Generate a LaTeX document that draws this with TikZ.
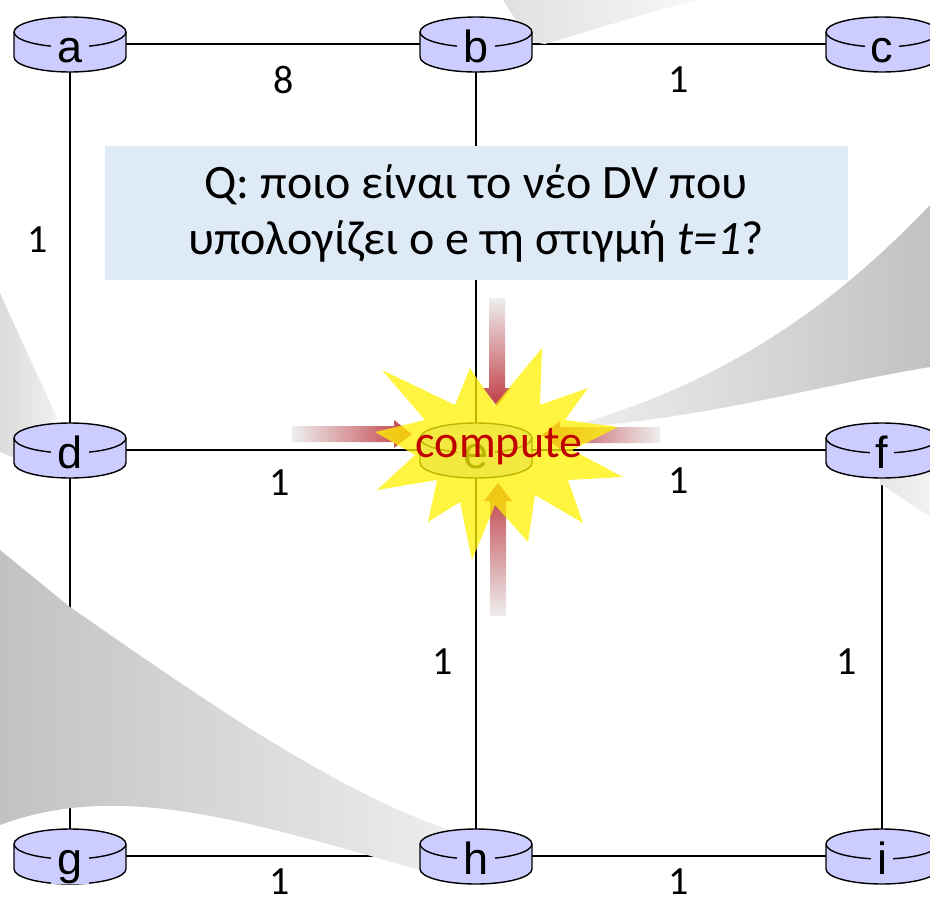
\documentclass[tikz,border=0pt]{standalone}
\usepackage{fontspec}
\setmainfont{Carlito}
\newfontfamily\routerfont{Liberation Sans}
\usepackage{tikz}
\usetikzlibrary{positioning}
\definecolor{routerblue}{RGB}{204,204,255}
\definecolor{qblue}{RGB}{222,234,246}
\definecolor{fadered}{RGB}{192,60,68}
\definecolor{fadegray}{RGB}{238,238,238}
\definecolor{computered}{RGB}{192,0,0}
\tikzset{
  link/.style={line width=1.8pt, color=black},
  weight/.style={font=\fontsize{40}{40}\selectfont, inner sep=0pt},
  routertag/.style={font=\routerfont\fontsize{45}{45}\selectfont,
    fill=routerblue, inner xsep=6pt, inner ysep=1pt, anchor=base},
  router/.pic={
    \draw[fill=routerblue, line width=1.4pt] (-56,-12) -- (-56,13)
      arc[start angle=180, end angle=0, x radius=56, y radius=15] -- (56,-12)
      arc[start angle=0, end angle=-180, x radius=56, y radius=15] -- cycle;
    \draw[line width=1.4pt] (-56,-12)
      arc[start angle=180, end angle=0, x radius=56, y radius=15];
    \node[routertag] (-tag) at (0,18) {#1};
  },
  qbox/.style={rectangle, fill=qblue, minimum width=743pt, minimum height=134pt,
    align=center, font=\fontsize{48}{56}\selectfont, inner sep=0pt},
  burst/.style={fill=yellow, fill opacity=0.75},
  computetag/.style={text=computered, font=\fontsize{46}{46}\selectfont, inner sep=0pt}
}

\begin{document}
\begin{tikzpicture}[x=1pt, y=-1pt, on grid, node distance=406pt]
  \useasboundingbox (0,0) rectangle (930,897);

  % Router spots
  \coordinate (a) at (70,44);
  \coordinate[right=of a] (b);
  \coordinate[right=of b] (c);
  \coordinate[below=of a] (d);
  \coordinate[right=of d] (e);
  \coordinate[right=of e] (f);
  \coordinate[below=of d] (g);
  \coordinate[right=of g] (h);
  \coordinate[right=of h] (i);

  % Links with costs
  \draw[link] (a) -- node[weight, pos=0.525, yshift=-36pt] {8} (b);
  \draw[link] (b) -- node[weight, pos=0.5, yshift=-36pt] {1} (c);
  \draw[link] (a) -- node[weight, pos=0.483, xshift=-32pt] {1} (d);
  \draw[link] (b) -- (e);
  \draw[link] (d) -- node[weight, pos=0.517, yshift=-33pt] {1} (e);
  \draw[link] (e) -- node[weight, pos=0.5, yshift=-31pt] {1} (f);
  \draw[link] (d) -- (g);
  \draw[link] (e) -- node[weight, pos=0.522, xshift=-33pt] {1} (h);
  \draw[link] (f) -- node[weight, pos=0.522, xshift=-35pt] {1} (i);
  \draw[link] (g) -- node[weight, pos=0.517, yshift=-26pt] {1} (h);
  \draw[link] (h) -- node[weight, pos=0.5, yshift=-26pt] {1} (i);

  % Grey swooshes
  \shade[left color=gray!24, right color=gray!6] (503,0) -- (697,0)
    .. controls (640,15) and (585,32) .. (545,44) -- (532,42)
    .. controls (522,28) and (510,12) .. (503,0) -- cycle;
  \shade[left color=gray!12, right color=gray!48] (930,205)
    .. controls (830,310) and (720,385) .. (565,428)
    .. controls (700,420) and (820,385) .. (930,367) -- cycle;
  \shade[left color=gray!20, right color=gray!10] (880,478) -- (930,468)
    -- (930,516) .. controls (910,505) and (895,492) .. (880,484) -- cycle;
  \shade[left color=gray!28, right color=gray!12] (0,293) -- (57,418)
    -- (15,458) -- (0,452) -- cycle;
  \shade[left color=gray!48, right color=gray!14] (0,550) -- (70,607)
    .. controls (190,690) and (330,790) .. (450,830) -- (420,870)
    .. controls (250,822) and (120,780) .. (0,825) -- cycle;

  % Routers
  \foreach \n in {a,...,i}
    \pic (r\n) at (\n) {router=\n};

  % Question
  \node[qbox] (question) at (476,213)
    {Q: ποιο είναι το νέο DV που\\υπολογίζει ο e τη στιγμή \textit{t=1}?};

  % Incoming vectors
  \coordinate (wtip) at (412,434);
  \coordinate (ntip) at (497,406);
  \coordinate (etip) at (542,435);
  \coordinate (stip) at (498,483);
  \shade[left color=fadegray, right color=fadered, shift={(wtip)}]
    (-120,-8) -- (-18,-8) -- (-18,-14) -- (0,0) -- (-18,14) -- (-18,8) -- (-120,8) -- cycle;
  \shade[top color=fadegray, bottom color=fadered, shift={(ntip)}]
    (-8,-108) -- (-8,-18) -- (-14,-18) -- (0,0) -- (14,-18) -- (8,-18) -- (8,-108) -- cycle;
  \shade[left color=fadered, right color=fadegray, shift={(etip)}]
    (118,-8) -- (18,-8) -- (18,-14) -- (0,0) -- (18,14) -- (18,8) -- (118,8) -- cycle;
  \shade[top color=fadered, bottom color=fadegray, shift={(stip)}]
    (-8,133) -- (-8,18) -- (-14,18) -- (0,0) -- (14,18) -- (8,18) -- (8,133) -- cycle;

  % Compute burst
  \fill[burst] (470,368) -- (495,405) -- (542,348) -- (540,405) -- (588,388)
    -- (565,420) -- (618,427) -- (572,450) -- (623,477) -- (568,480)
    -- (583,523) -- (535,495) -- (528,542) -- (495,505) -- (472,560)
    -- (460,502) -- (428,522) -- (437,480) -- (377,490) -- (415,455)
    -- (375,432) -- (425,420) -- (382,370) -- (455,405) -- cycle;
  \node[computetag] (compute) at (499,447) {compute};
\end{tikzpicture}
\end{document}
